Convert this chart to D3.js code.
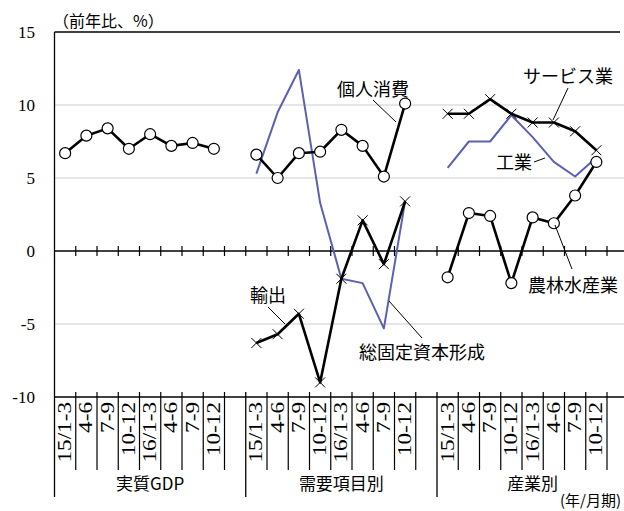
<!DOCTYPE html>
<html><head><meta charset="utf-8">
<script src="https://cdn.jsdelivr.net/npm/d3@7"></script>
<style>body{margin:0;background:#fff}svg{display:block}</style>
</head><body><svg id="c" width="624" height="511"></svg>
<script>
// ---- data ----
const quarters = ["15/1-3","4-6","7-9","10-12","16/1-3","4-6","7-9","10-12"];
const groups = ["実質GDP","需要項目別","産業別"];
const yTicks = [15,10,5,0,-5,-10];
const gdp         = [6.7, 7.9, 8.4, 7.0, 8.0, 7.2, 7.4, 7.0];
const consumption = [6.6, 5.0, 6.7, 6.8, 8.3, 7.2, 5.1, 10.1];
const gfcf        = [5.3, 9.5, 12.4, 3.3, -1.9, -2.2, -5.3, 3.4];
const exportsS    = [-6.3, -5.7, -4.3, -9.0, -1.9, 2.1, -0.9, 3.4];
const services    = [9.4, 9.4, 10.4, 9.4, 8.8, 8.8, 8.2, 6.9];
const industry    = [5.7, 7.5, 7.5, 9.3, 7.8, 6.1, 5.1, 6.4];
const agriculture = [-1.8, 2.6, 2.4, -2.2, 2.3, 1.9, 3.8, 6.1];

// ---- layout ----
const svg = d3.select("#c");
const L = 54.5, T = 32, B = 397, bw = 21.25;
const cats = [];
groups.forEach((g,gi)=>{ quarters.forEach((q,qi)=>cats.push(g+"|"+qi)); cats.push("gap"+gi); });
const x = d3.scaleBand().domain(cats).range([L, L+cats.length*bw]).padding(0);
const y = d3.scaleLinear().domain([-10,15]).range([B, T]);
const cx = (g,i)=> x(groups[g]+"|"+i) + x.bandwidth()/2;
const serif = "'Liberation Serif','Times New Roman',serif";
const jp = "'Noto Sans CJK JP','Noto Sans',sans-serif";
const blue = "#5c60b4";

// gridlines
svg.selectAll("line.grid").data([10,5,-5]).enter().append("line")
  .attr("x1",L).attr("x2",624).attr("y1",d=>y(d)).attr("y2",d=>y(d))
  .attr("stroke","#999").attr("stroke-width",1).attr("stroke-dasharray","1,1");
svg.append("line").attr("x1",L).attr("x2",620).attr("y1",y(15)).attr("y2",y(15)).attr("stroke","#000").attr("stroke-width",1.3);
svg.append("line").attr("x1",L).attr("x2",624).attr("y1",y(-10)).attr("y2",y(-10)).attr("stroke","#000").attr("stroke-width",1.3);
svg.append("line").attr("x1",L).attr("x2",624).attr("y1",y(0)).attr("y2",y(0)).attr("stroke","#000").attr("stroke-width",1.3);
svg.selectAll("text.yt").data(yTicks).enter().append("text")
  .attr("x",35).attr("y",d=>y(d)+5.5).attr("text-anchor","end")
  .attr("font-family",serif).attr("font-size",17).text(d=>d);

// boundaries
const bounds = d3.range(0, cats.length+1).map(i=>L+i*bw);
const sepIdx = new Set([0,9,18,27]);
bounds.forEach((bx,i)=>{
  if(i>0){
    svg.append("line").attr("x1",bx).attr("x2",bx).attr("y1",y(0)-5).attr("y2",y(0)+5).attr("stroke","#000").attr("stroke-width",1.2);
  }
  if(sepIdx.has(i)){
    svg.append("line").attr("x1",bx).attr("x2",bx).attr("y1", i===0?T:y(-10)-5).attr("y2",497).attr("stroke","#000").attr("stroke-width",1.3);
  } else {
    svg.append("line").attr("x1",bx).attr("x2",bx).attr("y1",y(-10)-5).attr("y2",470).attr("stroke","#000").attr("stroke-width",1.2);
  }
});

// x tick labels (rotated)
groups.forEach((g,gi)=>{
  quarters.forEach((q,qi)=>{
    const px = cx(gi,qi)+6;
    svg.append("text").attr("transform",`translate(${px},402) rotate(-90) scale(1.22,1)`)
      .attr("text-anchor","end").attr("font-family",serif).attr("font-size",19).text(q);
  });
  const gx = x(g+"|0") + 4.5*bw;
  svg.append("text").attr("x",gx).attr("y",490).attr("text-anchor","middle")
    .attr("font-family",jp).attr("font-size",17).text(g);
});

// series
const line = d3.line();
function drawLine(vals, g, color, w){
  svg.append("path").attr("d", line(vals.map((v,i)=>[cx(g,i), y(v)])))
    .attr("fill","none").attr("stroke",color).attr("stroke-width",w).attr("stroke-linejoin","round");
}
function circles(vals,g){
  svg.append("g").selectAll("circle").data(vals).enter().append("circle")
    .attr("cx",(d,i)=>cx(g,i)).attr("cy",d=>y(d)).attr("r",5.5)
    .attr("fill","#fff").attr("stroke","#000").attr("stroke-width",1.2);
}
function crosses(vals,g){
  const s=5;
  svg.append("g").selectAll("path").data(vals).enter().append("path")
    .attr("d",(d,i)=>{const X=cx(g,i),Y=y(d);return `M${X-s},${Y-s}L${X+s},${Y+s}M${X-s},${Y+s}L${X+s},${Y-s}`;})
    .attr("stroke","#000").attr("stroke-width",1).attr("fill","none");
}
drawLine(gfcf,1,blue,2);
drawLine(industry,2,blue,2);
drawLine(gdp,0,"#000",2.6);
drawLine(consumption,1,"#000",2.6);
drawLine(exportsS,1,"#000",2.6);
drawLine(services,2,"#000",2.6);
drawLine(agriculture,2,"#000",2.6);
circles(gdp,0); circles(consumption,1); circles(agriculture,2);
crosses(exportsS,1); crosses(services,2);

// annotations
const ann = [
  {t:"個人消費", x:373, y:96, l:[373,100,396,122]},
  {t:"サービス業", x:568, y:83, l:[568,88,553,120]},
  {t:"工業", x:514, y:169, l:[534,162,545,158]},
  {t:"農林水産業", x:573, y:292, l:[572,269,555,225]},
  {t:"輸出", x:268, y:302, l:[268,307,285,324]},
  {t:"総固定資本形成", x:422, y:359, l:[389,301,422,338]}
];
ann.forEach(a=>{
  svg.append("line").attr("x1",a.l[0]).attr("y1",a.l[1]).attr("x2",a.l[2]).attr("y2",a.l[3]).attr("stroke","#000").attr("stroke-width",1);
  svg.append("text").attr("x",a.x).attr("y",a.y).attr("text-anchor","middle")
    .attr("font-family",jp).attr("font-size",18).text(a.t);
});
svg.append("text").attr("x",53).attr("y",27).attr("font-family",jp).attr("font-size",16).text("（前年比、%）");
svg.append("text").attr("x",621).attr("y",506).attr("text-anchor","end").attr("font-family",jp).attr("font-size",15).text("(年/月期)");
</script></body></html>
